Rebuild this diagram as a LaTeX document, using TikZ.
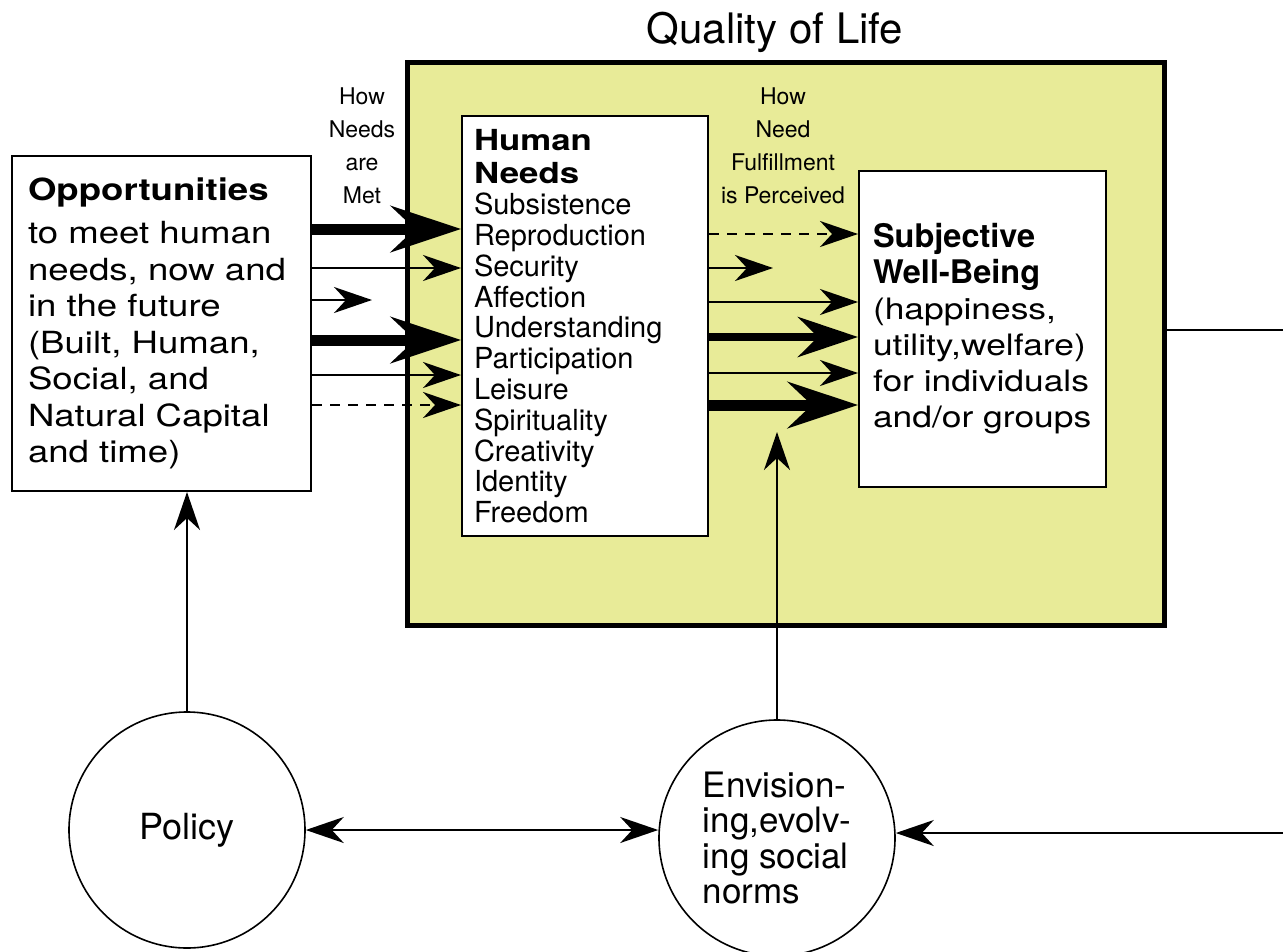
\documentclass[tikz,border=0pt]{standalone}
\usepackage{fontspec}
\setmainfont{TeX Gyre Heros}
\newfontfamily\widesans{TeX Gyre Heros}[FakeStretch=1.2]
\usetikzlibrary{arrows.meta}
\definecolor{qolyellow}{RGB}{232,235,152}
\tikzstyle{plainbox} = [draw=black,line width=2pt,fill=white,inner sep=0pt,align=left]
\tikzstyle{bubble} = [draw=black,line width=1.6pt,fill=white,circle,inner sep=0pt,minimum size=236pt,align=left]
\tikzstyle{lightarrow} = [line width=2pt,-{Stealth[length=38pt,width=26pt,inset=12pt]}]
\tikzstyle{twoway} = [line width=2pt,{Stealth[length=38pt,width=26pt,inset=12pt]}-{Stealth[length=38pt,width=26pt,inset=12pt]}]
\tikzstyle{dasharrow} = [lightarrow,dash pattern=on 10pt off 8pt]
\tikzstyle{midarrow} = [line width=8pt,-{Stealth[length=60pt,width=40pt,inset=20pt]}]
\tikzstyle{heavyarrow} = [line width=11pt,-{Stealth[length=70pt,width=46pt,inset=24pt]}]
\tikzstyle{smalllabel} = [align=center,inner sep=0pt,font=\fontsize{23}{33}\selectfont]

\begin{document}
\begin{tikzpicture}[x=1pt,y=-1pt]
  \useasboundingbox (0,0) rectangle (1283,951);
  % quality of life frame
  \node[draw=black,line width=5pt,fill=qolyellow,minimum width=757pt,minimum height=563pt] (qol) at (786,344) {};
  \node[font=\fontsize{42}{48}\selectfont] (qoltitle) at (775,32) {Quality of Life};
  \node[smalllabel] (metlabel) at (362,146) {How\\Needs\\are\\Met};
  \node[smalllabel] (perclabel) at (783,146) {How\\Need\\Fulfillment\\is Perceived};

  % the three boxes
  \node[plainbox,anchor=north west,minimum width=299pt,minimum height=335pt,text width=267pt,
    font=\widesans\fontsize{30.5}{36.5}\selectfont] (opp) at (11,155)
    {\textbf{Opportunities}\\[7pt]to meet human\\needs, now and\\in the future\\(Built, Human,\\Social, and\\Natural Capital\\and time)};
  \node[plainbox,anchor=north west,minimum width=246pt,minimum height=420pt,text width=222pt,
    font=\fontsize{29}{30.8}\selectfont] (needs) at (461,115)
    {{\widesans\bfseries Human}\\[3pt]{\widesans\bfseries Needs}\\Subsistence\\Reproduction\\Security\\Affection\\Understanding\\Participation\\Leisure\\Spirituality\\Creativity\\Identity\\Freedom};
  \node[plainbox,anchor=north west,minimum width=247pt,minimum height=316pt,text width=219pt,
    font=\widesans\fontsize{29.5}{36}\selectfont] (swb) at (858,170)
    {{\normalfont\bfseries\fontsize{32.5}{36}\selectfont Subjective}\\{\normalfont\bfseries\fontsize{32.5}{36}\selectfont Well-Being}\\(happiness,\\utility,welfare)\\for individuals\\and/or groups};

  % the two circles
  \node[bubble,font=\fontsize{36}{40}\selectfont] (policy) at (187,830) {Policy};
  \node[bubble,font=\fontsize{35}{35.5}\selectfont] (env) at (777,838) {Envision-\\ing,evolv-\\ing social\\norms};

  % how needs are met
  \foreach \y/\kind in {229/heavyarrow,268/lightarrow,340/heavyarrow,375/lightarrow,405/dasharrow}
    \draw[\kind] (opp.east |- 0,\y) -- (needs.west |- 0,\y);
  \coordinate (oppstub) at (372,300);
  \draw[lightarrow] (opp.east |- oppstub) -- (oppstub);

  % how fulfillment is perceived
  \foreach \y/\kind in {234/dasharrow,302/lightarrow,337/midarrow,373/lightarrow,405/heavyarrow}
    \draw[\kind] (needs.east |- 0,\y) -- (swb.west |- 0,\y);
  \coordinate (needstub) at (773,268);
  \draw[lightarrow] (needs.east |- needstub) -- (needstub);

  % feedback loops
  \draw[lightarrow] (policy.north) -- (policy.north |- opp.south);
  \coordinate (envtip) at (774,432);
  \draw[lightarrow] (env.north) -- (env.north |- envtip);
  \draw[twoway] (policy.east) -- (policy.east -| env.west);
  \coordinate (edgeout) at (1283,330);
  \draw[line width=2pt] (qol.east |- edgeout) -- (edgeout);
  \coordinate (edgein) at (1283,833);
  \draw[lightarrow] (edgein) -- (edgein -| env.east);
\end{tikzpicture}
\end{document}
